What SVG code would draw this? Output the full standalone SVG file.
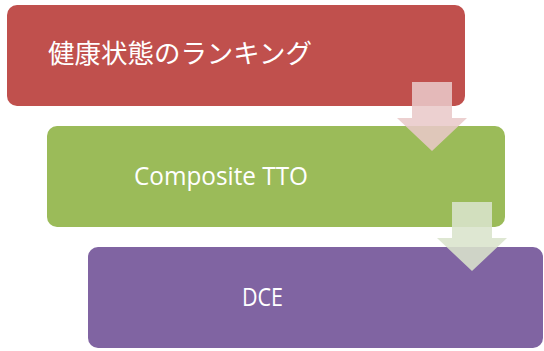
<svg xmlns="http://www.w3.org/2000/svg" width="544" height="351" viewBox="0 0 544 351">
<style>
.lbl{fill:#ffffff;font-family:"Open Sans","Noto Sans",sans-serif;}
.jp{fill:#ffffff;font-family:"Noto Sans CJK JP","Noto Sans",sans-serif;}
</style>
<rect width="544" height="351" fill="#ffffff"/>
<g id="node-ranking">
<rect x="7" y="5" width="458" height="101" rx="10" fill="#c0504d"/>
<text class="jp" x="48" y="63" font-size="26.5" textLength="264" lengthAdjust="spacingAndGlyphs">健康状態のランキング</text>
</g>
<g id="node-tto">
<rect x="47" y="126" width="458" height="101" rx="10" fill="#9bbb59"/>
<text class="lbl" x="134" y="185" font-size="26" textLength="174" lengthAdjust="spacingAndGlyphs">Composite TTO</text>
</g>
<g id="node-dce">
<rect x="88" y="247" width="455" height="101" rx="10" fill="#8064a2"/>
<text class="lbl" x="242" y="306" font-size="25" textLength="41" lengthAdjust="spacingAndGlyphs">DCE</text>
</g>
<g id="connectors">
<polygon points="412,82 452,82 452,118 467,118 432,151 397,118 412,118" fill="#e9c9c9" fill-opacity="0.87"/>
<polygon points="452,202 492,202 492,238 507,238 472,271 437,238 452,238" fill="#d9e4cc" fill-opacity="0.88"/>
</g>
</svg>
